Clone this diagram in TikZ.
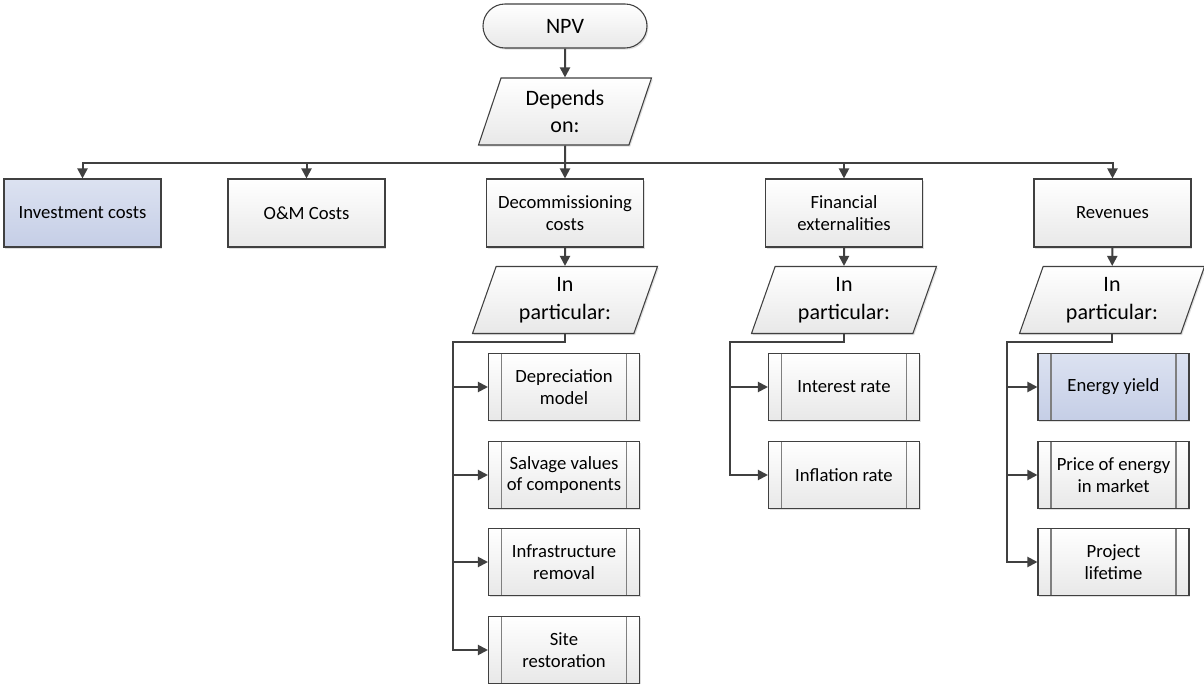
\documentclass[tikz,border=0pt]{standalone}
\usepackage{fontspec}
\setmainfont{Carlito}
\usetikzlibrary{shapes.geometric,shadows,arrows.meta}
\definecolor{edge}{HTML}{404040}
\definecolor{innerline}{HTML}{7F7F7F}
\definecolor{bluetop}{HTML}{DCE2F1}
\definecolor{bluebot}{HTML}{C5CEE6}
\begin{document}
\begin{tikzpicture}[x=0.75pt,y=-0.75pt,
  base/.style={draw=edge, line width=0.8pt, top color=white, bottom color=black!9,
    align=center, text=black,
    drop shadow={shadow xshift=1pt, shadow yshift=-1.2pt, opacity=0.25}},
  smalltext/.style={font=\fontsize{14}{16.3}\selectfont},
  largetext/.style={font=\fontsize{16.5}{20.8}\selectfont},
  term/.style={base, largetext, rectangle, rounded corners=16.5pt,
    minimum width=123pt, minimum height=33pt},
  para/.style={base, largetext, trapezium, trapezium left angle=63.8,
    trapezium right angle=116.2, trapezium stretches body,
    minimum height=50.25pt, minimum width=138.75pt, inner sep=1pt},
  box/.style={base, smalltext, rectangle, minimum width=117.75pt, minimum height=51pt},
  sub/.style={base, smalltext, rectangle, minimum width=113.25pt, minimum height=50.25pt,
    path picture={\draw[innerline, line width=0.8pt]
      ([xshift=9.75pt]path picture bounding box.north west) --
      ([xshift=9.75pt]path picture bounding box.south west)
      ([xshift=-9.75pt]path picture bounding box.north east) --
      ([xshift=-9.75pt]path picture bounding box.south east);}},
  hi/.style={top color=bluetop, bottom color=bluebot},
  conn/.style={draw=edge, line width=1.5pt, -{Triangle[length=7.5pt,width=7.5pt]}}
]
\path[fill=white, use as bounding box] (0,0) rectangle (1204,684);

% root and its split
\node[term] (npv) at (565,26) {NPV};
\node[para, minimum width=129.75pt] (dep) at (565,111.5) {Depends\\on:};

% first level
\node[box, hi] (inv) at (82.5,213) {Investment costs};
\node[box] (om) at (306.5,213) {O\&M Costs};
\node[box] (dec) at (565,213) {Decommissioning\\costs};
\node[box] (fin) at (844,213) {Financial\\externalities};
\node[box] (rev) at (1112.5,213) {Revenues};

% second level
\node[para] (ip1) at (565,300) {In\\particular:};
\node[para] (ip2) at (844,300) {In\\particular:};
\node[para] (ip3) at (1112,300) {In\\particular:};

% details of decommissioning
\node[sub] (dpr) at (564,387) {Depreciation\\model};
\node[sub] (slv) at (564,475) {Salvage values\\of components};
\node[sub] (inf) at (564,562) {Infrastructure\\removal};
\node[sub] (sit) at (564,650) {Site\\restoration};

% details of financial externalities
\node[sub] (irt) at (844,387) {Interest rate};
\node[sub] (flr) at (844,475) {Inflation rate};

% details of revenues
\node[sub, hi] (eny) at (1113.5,387) {Energy yield};
\node[sub] (pri) at (1113.5,475) {Price of energy\\in market};
\node[sub] (plt) at (1113.5,562) {Project\\lifetime};

% bus points
\coordinate (top) at (565,163);
\coordinate (b1) at (453,342);
\coordinate (b2) at (730,342);
\coordinate (b3) at (1007,342);

% connectors
\draw[conn] (npv) -- (dep);
\draw[conn] (dep.south) |- (top) -| (inv.north);
\draw[conn] (dep.south) |- (top) -| (om.north);
\draw[conn] (dep.south) -- (dec.north);
\draw[conn] (dep.south) |- (top) -| (fin.north);
\draw[conn] (dep.south) |- (top) -| (rev.north);

\draw[conn] (dec) -- (ip1);
\draw[conn] (fin) -- (ip2);
\draw[conn] (rev) -- (ip3);

\foreach \t in {dpr,slv,inf,sit}
  \draw[conn] (ip1.south) |- (b1) |- (\t.west);
\foreach \t in {irt,flr}
  \draw[conn] (ip2.south) |- (b2) |- (\t.west);
\foreach \t in {eny,pri,plt}
  \draw[conn] (ip3.south) |- (b3) |- (\t.west);
\end{tikzpicture}
\end{document}
